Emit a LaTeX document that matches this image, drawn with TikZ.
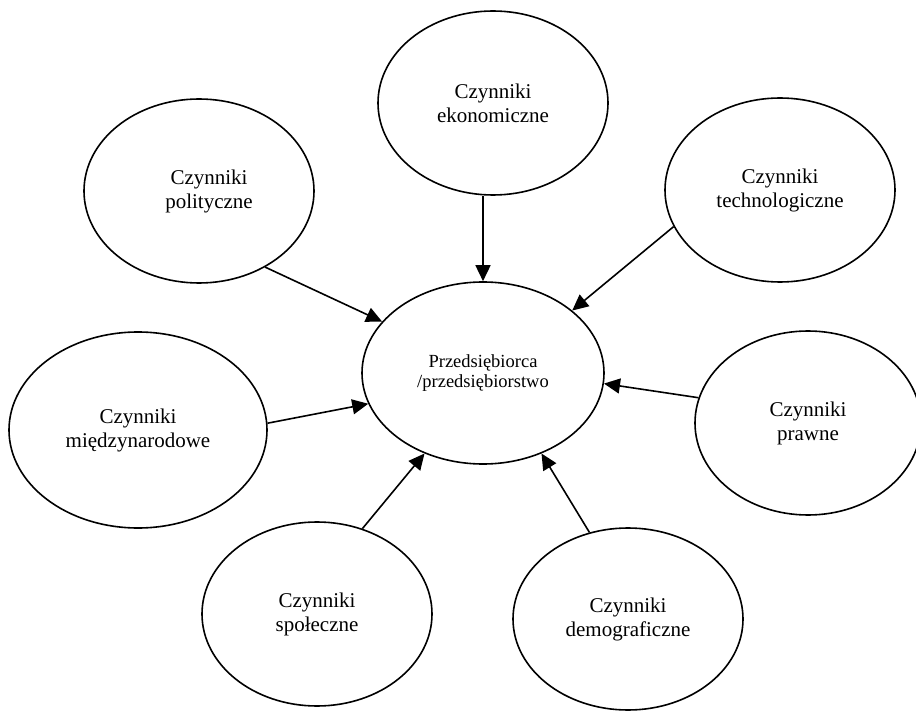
\documentclass[tikz,border=0pt]{standalone}
\usepackage{fontspec}
\setmainfont{Liberation Serif}
\usetikzlibrary{shapes.geometric,arrows.meta}
\begin{document}
\begin{tikzpicture}[x=1pt,y=-1pt,
  factor/.style={draw,ellipse,line width=1.6pt,inner sep=0pt,align=center,
    minimum width=230pt,minimum height=184pt,
    font=\fontsize{21}{24}\selectfont},
  conn/.style={line width=1.6pt,-{Triangle[length=16pt,width=15pt]}}]
\clip (0,0) rectangle (916,711);
\useasboundingbox (0,0) rectangle (916,711);
\node[factor] (ekon) at (493,103) {Czynniki\\ekonomiczne};
\node[factor] (polit) at (199,191) {\hspace*{20pt}Czynniki\\\hspace*{20pt}polityczne};
\node[factor] (tech) at (780,190) {Czynniki\\technologiczne};
\node[factor,minimum width=242pt,minimum height=182pt,
  font=\fontsize{18.5}{19.5}\selectfont] (centr) at (483,373) {Przedsiębiorca\\/przedsiębiorstwo};
\node[factor,minimum width=258pt,minimum height=196pt] (mdz) at (138,430) {Czynniki\\międzynarodowe};
\node[factor,minimum width=226pt] (prawne) at (808,423) {Czynniki\\prawne};
\node[factor] (spol) at (317,614) {Czynniki\\społeczne};
\node[factor,minimum height=182pt] (demo) at (628,619) {Czynniki\\demograficzne};
\draw[conn] (ekon.south -| centr.north) -- (centr.north);
\draw[conn] (polit.-49.5) -- (centr.153.9);
\draw[conn] (tech.199.7) -- (centr.35.4);
\draw[conn] (mdz.3.5) -- (centr.195.6);
\draw[conn] (prawne.167.5) -- (centr.-5.2);
\draw[conn] (spol.62.1) -- (centr.234.3);
\draw[conn] (demo.114.9) -- (centr.-54.9);
\end{tikzpicture}
\end{document}
